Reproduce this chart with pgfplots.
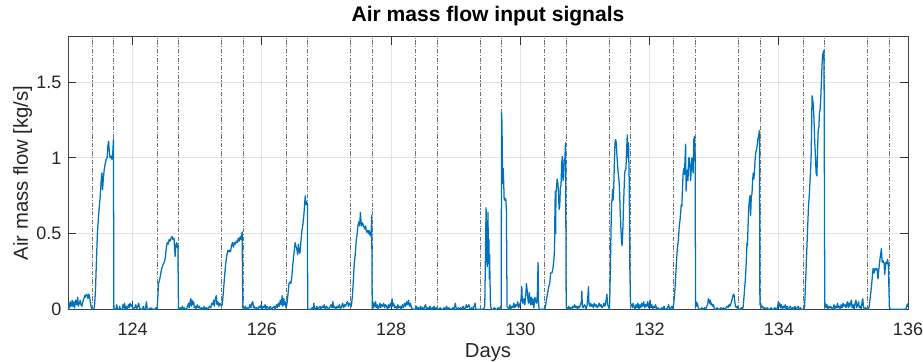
\documentclass[border=0pt]{standalone}
\usepackage{fontspec}
\setmainfont{Liberation Sans}
\usepackage{pgfplots}
\pgfplotsset{compat=1.18}
\definecolor{mblue}{rgb}{0,0.447,0.741}
\definecolor{txtgray}{rgb}{0.15,0.15,0.15}
\begin{document}
\begin{tikzpicture}
\begin{axis}[
  name=ax,
  scale only axis,
  width=630pt, height=204.45pt,
  xmin=123, xmax=136, ymin=0, ymax=1.8,
  xtick={124,126,...,136},
  ytick={0,0.5,1,1.5},
  grid=major,
  major grid style={color=black!11, line width=0.6pt},
  axis line style={color=black!75, line width=0.6pt},
  tick style={color=black!80, line width=0.6pt},
  major tick length=6pt,
  tick align=inside,
  /pgf/number format/assume math mode=true,
  ticklabel style={font=\fontsize{13.5}{16}\selectfont, text=txtgray},
  xticklabel style={anchor=base, inner sep=0pt, yshift=-19.8pt},
  yticklabel style={anchor=east, inner sep=0pt, xshift=-4.7pt},
  title={\bfseries Air mass flow input signals},
  title style={at={(axis description cs:0.5,1)}, anchor=base, inner sep=0pt, yshift=5.5pt, font=\fontsize{15.8}{18}\selectfont},
  xlabel={Days},
  ylabel={Air mass flow [kg/s]},
  xlabel style={at={(axis description cs:0.5,-0.178)}, anchor=base, inner sep=0pt, font=\fontsize{15.2}{18}\selectfont, text=txtgray},
  ylabel style={at={(axis description cs:-0.0425,0.5)}, anchor=south, rotate=0, inner sep=0pt, font=\fontsize{15.2}{18}\selectfont, text=txtgray},
]
\addplot[ycomb, black!55, line width=0.5pt, dash pattern=on 3.2pt off 1.2pt on 0.8pt off 1.2pt, forget plot] coordinates {
(123.375,1.8) (123.70833,1.8) (124.375,1.8) (124.70833,1.8)
(125.375,1.8) (125.70833,1.8) (126.375,1.8) (126.70833,1.8)
(127.375,1.8) (127.70833,1.8) (128.375,1.8) (128.70833,1.8)
(129.375,1.8) (129.70833,1.8) (130.375,1.8) (130.70833,1.8)
(131.375,1.8) (131.70833,1.8) (132.375,1.8) (132.70833,1.8)
(133.375,1.8) (133.70833,1.8) (134.375,1.8) (134.70833,1.8)
(135.375,1.8) (135.70833,1.8)
};
\addplot[mblue, line width=0.95pt, line join=round, forget plot] table {
x y
123.000 0.00
123.010 0.01
123.018 0.04
123.025 0.01
123.035 0.05
123.045 0.02
123.055 0.03
123.065 0.06
123.075 0.02
123.090 0.05
123.100 0.01
123.110 0.03
123.120 0.06
123.135 0.03
123.150 0.08
123.160 0.02
123.175 0.04
123.190 0.06
123.200 0.03
123.215 0.02
123.230 0.05
123.245 0.07
123.260 0.09
123.270 0.08
123.285 0.10
123.300 0.09
123.310 0.07
123.320 0.10
123.330 0.09
123.345 0.05
123.360 0.01
123.380 0.00
123.400 0.00
123.410 0.02
123.425 0.12
123.440 0.32
123.455 0.50
123.470 0.60
123.485 0.68
123.500 0.75
123.515 0.86
123.525 0.90
123.535 0.79
123.545 0.85
123.560 0.92
123.575 0.96
123.590 0.99
123.605 1.00
123.618 1.08
123.628 1.11
123.638 1.05
123.650 1.00
123.665 1.01
123.680 0.99
123.695 1.05
123.703 1.12
123.710 0.00
123.720 0.00
123.740 0.00
123.755 0.03
123.765 0.00
123.790 0.00
123.800 0.02
123.810 0.00
123.840 0.00
123.850 0.03
123.860 0.01
123.875 0.04
123.885 0.00
123.900 0.02
123.915 0.00
123.935 0.03
123.945 0.01
123.960 0.04
123.975 0.02
123.990 0.03
124.005 0.00
124.030 0.01
124.050 0.03
124.060 0.00
124.080 0.02
124.095 0.04
124.105 0.01
124.125 0.00
124.150 0.00
124.165 0.02
124.175 0.00
124.200 0.01
124.215 0.05
124.225 0.00
124.250 0.00
124.280 0.01
124.310 0.00
124.340 0.00
124.365 0.01
124.378 0.00
124.390 0.08
124.400 0.17
124.415 0.19
124.430 0.22
124.445 0.26
124.460 0.28
124.475 0.30
124.490 0.31
124.505 0.34
124.520 0.40
124.535 0.44
124.550 0.43
124.565 0.46
124.580 0.45
124.595 0.47
124.610 0.48
124.625 0.46
124.640 0.47
124.650 0.40
124.658 0.35
124.668 0.42
124.680 0.44
124.690 0.41
124.700 0.43
124.710 0.00
124.720 0.00
124.740 0.01
124.755 0.00
124.770 0.02
124.785 0.00
124.800 0.01
124.815 0.00
124.835 0.00
124.850 0.02
124.865 0.04
124.875 0.01
124.890 0.05
124.900 0.07
124.910 0.02
124.920 0.06
124.930 0.03
124.945 0.05
124.955 0.01
124.970 0.02
124.985 0.00
125.000 0.03
125.015 0.01
125.030 0.02
125.050 0.00
125.070 0.01
125.090 0.00
125.110 0.02
125.125 0.00
125.145 0.01
125.165 0.00
125.190 0.02
125.210 0.01
125.225 0.04
125.240 0.03
125.255 0.06
125.265 0.02
125.280 0.07
125.295 0.09
125.305 0.03
125.320 0.05
125.335 0.02
125.350 0.04
125.365 0.03
125.378 0.02
125.390 0.04
125.400 0.09
125.420 0.20
125.440 0.30
125.460 0.36
125.475 0.39
125.490 0.38
125.505 0.39
125.515 0.38
125.530 0.42
125.545 0.44
125.560 0.41
125.575 0.44
125.590 0.43
125.605 0.45
125.620 0.44
125.635 0.47
125.650 0.45
125.665 0.48
125.680 0.46
125.695 0.51
125.705 0.01
125.710 0.01
125.725 0.00
125.745 0.02
125.760 0.00
125.780 0.01
125.795 0.00
125.815 0.03
125.830 0.01
125.845 0.04
125.860 0.05
125.870 0.01
125.885 0.02
125.900 0.00
125.920 0.01
125.940 0.00
125.960 0.02
125.975 0.01
125.990 0.03
126.005 0.00
126.020 0.02
126.035 0.01
126.050 0.03
126.065 0.00
126.080 0.02
126.095 0.01
126.110 0.00
126.130 0.02
126.150 0.00
126.170 0.01
126.190 0.02
126.205 0.00
126.225 0.03
126.240 0.01
126.255 0.04
126.270 0.02
126.285 0.06
126.300 0.03
126.315 0.09
126.325 0.02
126.340 0.07
126.350 0.03
126.360 0.05
126.375 0.01
126.390 0.04
126.405 0.10
126.420 0.17
126.435 0.18
126.450 0.17
126.465 0.22
126.480 0.30
126.500 0.38
126.515 0.44
126.525 0.42
126.540 0.40
126.555 0.36
126.565 0.43
126.575 0.38
126.590 0.37
126.605 0.45
126.620 0.52
126.635 0.56
126.650 0.62
126.663 0.70
126.672 0.75
126.682 0.69
126.695 0.71
126.705 0.69
126.710 0.00
126.720 0.00
126.740 0.00
126.760 0.00
126.780 0.01
126.795 0.00
126.805 0.04
126.815 0.00
126.835 0.00
126.850 0.02
126.865 0.00
126.885 0.01
126.900 0.02
126.915 0.00
126.935 0.02
126.950 0.01
126.965 0.03
126.980 0.00
127.000 0.02
127.015 0.01
127.030 0.00
127.050 0.01
127.070 0.03
127.085 0.01
127.100 0.05
127.110 0.01
127.125 0.02
127.145 0.00
127.165 0.02
127.180 0.01
127.200 0.03
127.215 0.00
127.235 0.02
127.250 0.04
127.265 0.01
127.280 0.03
127.295 0.02
127.310 0.04
127.325 0.05
127.340 0.02
127.355 0.04
127.370 0.03
127.385 0.02
127.400 0.08
127.415 0.18
127.430 0.30
127.445 0.36
127.460 0.45
127.475 0.50
127.490 0.56
127.505 0.58
127.515 0.55
127.525 0.64
127.535 0.58
127.545 0.55
127.560 0.57
127.575 0.55
127.590 0.53
127.605 0.55
127.620 0.51
127.635 0.52
127.650 0.50
127.660 0.52
127.670 0.49
127.680 0.51
127.690 0.48
127.700 0.62
127.708 0.00
127.720 0.05
127.730 0.01
127.740 0.04
127.750 0.02
127.760 0.05
127.770 0.01
127.785 0.03
127.800 0.00
127.815 0.02
127.830 0.04
127.840 0.01
127.855 0.03
127.870 0.02
127.885 0.04
127.900 0.01
127.915 0.03
127.930 0.02
127.945 0.00
127.960 0.03
127.975 0.01
127.990 0.04
128.005 0.02
128.015 0.07
128.025 0.02
128.040 0.04
128.055 0.01
128.070 0.02
128.090 0.00
128.105 0.03
128.120 0.01
128.140 0.02
128.155 0.00
128.175 0.03
128.190 0.01
128.210 0.04
128.225 0.02
128.240 0.05
128.255 0.03
128.270 0.06
128.285 0.02
128.300 0.04
128.315 0.01
128.335 0.00
128.360 0.00
128.380 0.00
128.395 0.02
128.405 0.00
128.425 0.01
128.440 0.00
128.460 0.02
128.470 0.00
128.490 0.01
128.505 0.00
128.520 0.02
128.535 0.03
128.545 0.00
128.565 0.01
128.580 0.00
128.600 0.02
128.615 0.00
128.635 0.01
128.650 0.00
128.665 0.02
128.680 0.00
128.700 0.01
128.720 0.00
128.740 0.00
128.760 0.01
128.775 0.00
128.800 0.00
128.820 0.01
128.840 0.00
128.860 0.02
128.875 0.00
128.895 0.01
128.915 0.00
128.935 0.00
128.955 0.01
128.970 0.00
128.985 0.02
128.995 0.04
129.005 0.01
129.020 0.00
129.040 0.01
129.060 0.00
129.080 0.01
129.095 0.00
129.115 0.02
129.130 0.00
129.150 0.01
129.165 0.03
129.175 0.01
129.190 0.02
129.205 0.03
129.215 0.01
129.230 0.00
129.250 0.01
129.265 0.00
129.285 0.02
129.300 0.04
129.310 0.00
129.330 0.00
129.360 0.00
129.400 0.00
129.430 0.00
129.450 0.02
129.462 0.40
129.470 0.67
129.477 0.50
129.483 0.32
129.488 0.28
129.493 0.45
129.500 0.64
129.505 0.35
129.510 0.30
129.515 0.46
129.520 0.20
129.525 0.36
129.530 0.22
129.537 0.05
129.545 0.01
129.560 0.00
129.580 0.00
129.600 0.01
129.620 0.00
129.640 0.00
129.660 0.01
129.680 0.00
129.695 0.02
129.705 0.01
129.709 1.30
129.716 1.24
129.722 1.00
129.728 0.83
129.735 0.93
129.742 0.85
129.750 0.73
129.762 0.72
129.775 0.73
129.785 0.65
129.795 0.02
129.810 0.01
129.825 0.00
129.840 0.03
129.850 0.00
129.870 0.02
129.885 0.01
129.900 0.04
129.915 0.01
129.930 0.03
129.945 0.02
129.960 0.05
129.975 0.01
129.990 0.03
130.005 0.05
130.015 0.08
130.023 0.15
130.030 0.06
130.040 0.04
130.055 0.07
130.070 0.03
130.085 0.10
130.095 0.17
130.105 0.13
130.115 0.08
130.125 0.04
130.140 0.11
130.150 0.05
130.160 0.03
130.170 0.08
130.180 0.03
130.195 0.07
130.210 0.01
130.225 0.08
130.240 0.05
130.255 0.04
130.265 0.12
130.275 0.31
130.282 0.05
130.290 0.00
130.320 0.00
130.350 0.00
130.370 0.00
130.385 0.01
130.400 0.05
130.420 0.10
130.440 0.15
130.455 0.17
130.470 0.24
130.490 0.24
130.505 0.27
130.520 0.33
130.530 0.40
130.537 0.70
130.542 0.78
130.547 0.50
130.552 0.77
130.560 0.80
130.570 0.86
130.580 0.84
130.590 0.78
130.600 0.66
130.610 0.68
130.620 0.80
130.630 0.82
130.640 0.96
130.650 1.01
130.660 0.85
130.670 0.87
130.680 0.98
130.690 1.00
130.700 1.10
130.710 0.02
130.720 0.01
130.735 0.00
130.750 0.02
130.765 0.00
130.780 0.01
130.795 0.00
130.810 0.02
130.825 0.01
130.840 0.03
130.855 0.01
130.870 0.02
130.885 0.00
130.900 0.02
130.915 0.01
130.930 0.03
130.945 0.05
130.952 0.12
130.960 0.02
130.975 0.01
130.990 0.03
131.005 0.02
131.020 0.00
131.035 0.03
131.048 0.10
131.055 0.15
131.062 0.04
131.075 0.02
131.090 0.04
131.100 0.02
131.115 0.03
131.130 0.01
131.145 0.04
131.160 0.02
131.175 0.03
131.190 0.01
131.205 0.02
131.220 0.04
131.235 0.02
131.250 0.03
131.265 0.01
131.280 0.02
131.295 0.04
131.310 0.02
131.325 0.05
131.340 0.10
131.350 0.03
131.365 0.02
131.378 0.00
131.385 0.08
131.395 0.30
131.405 0.55
131.412 0.70
131.420 0.72
131.428 0.79
131.435 0.72
131.445 0.80
131.455 0.95
131.465 1.10
131.475 1.12
131.485 1.10
131.495 1.02
131.505 0.95
131.515 0.90
131.525 0.86
131.535 0.80
131.545 0.65
131.555 0.55
131.565 0.46
131.575 0.42
131.585 0.50
131.595 0.65
131.605 0.78
131.615 0.90
131.625 0.92
131.635 0.93
131.645 1.05
131.655 1.15
131.665 1.00
131.675 1.10
131.685 0.85
131.695 0.28
131.705 0.04
131.720 0.03
131.735 0.01
131.745 0.04
131.760 0.02
131.775 0.00
131.790 0.03
131.805 0.01
131.820 0.04
131.835 0.00
131.850 0.03
131.865 0.01
131.880 0.04
131.895 0.02
131.910 0.05
131.925 0.01
131.940 0.03
131.955 0.02
131.970 0.05
131.985 0.01
132.000 0.04
132.010 0.06
132.020 0.01
132.035 0.03
132.050 0.00
132.065 0.02
132.080 0.01
132.095 0.03
132.110 0.00
132.130 0.01
132.150 0.00
132.170 0.00
132.190 0.01
132.205 0.00
132.225 0.02
132.240 0.00
132.260 0.00
132.280 0.01
132.295 0.03
132.310 0.00
132.330 0.01
132.345 0.02
132.360 0.00
132.372 0.03
132.385 0.08
132.400 0.18
132.415 0.30
132.430 0.40
132.445 0.45
132.460 0.55
132.475 0.60
132.490 0.69
132.500 0.68
132.510 0.80
132.520 0.90
132.530 0.93
132.540 0.89
132.550 1.00
132.558 1.09
132.565 0.78
132.575 0.88
132.585 0.92
132.595 0.85
132.605 1.00
132.615 1.00
132.625 0.95
132.635 0.85
132.645 0.92
132.655 1.00
132.665 0.95
132.675 0.90
132.685 1.12
132.695 1.14
132.705 1.05
132.712 0.02
132.720 0.05
132.730 0.02
132.740 0.04
132.755 0.01
132.770 0.00
132.790 0.00
132.810 0.01
132.830 0.00
132.850 0.01
132.870 0.00
132.885 0.02
132.900 0.03
132.910 0.07
132.920 0.06
132.930 0.04
132.940 0.06
132.950 0.03
132.960 0.04
132.975 0.02
132.990 0.03
133.005 0.00
133.025 0.00
133.045 0.01
133.065 0.00
133.085 0.00
133.105 0.01
133.125 0.00
133.145 0.01
133.165 0.00
133.185 0.01
133.200 0.02
133.215 0.01
133.230 0.03
133.245 0.02
133.260 0.04
133.275 0.06
133.290 0.09
133.300 0.10
133.310 0.09
133.320 0.05
133.330 0.02
133.345 0.01
133.360 0.02
133.375 0.00
133.400 0.00
133.425 0.01
133.440 0.00
133.450 0.02
133.465 0.10
133.480 0.18
133.490 0.25
133.500 0.35
133.508 0.44
133.515 0.42
133.525 0.55
133.535 0.67
133.545 0.72
133.555 0.75
133.565 0.62
133.575 0.75
133.585 0.76
133.595 0.85
133.605 0.90
133.615 0.86
133.625 0.92
133.635 1.00
133.645 1.04
133.655 1.05
133.665 1.08
133.675 1.12
133.690 1.15
133.700 1.18
133.708 0.03
133.720 0.04
133.735 0.01
133.750 0.02
133.765 0.00
133.785 0.01
133.800 0.00
133.820 0.01
133.840 0.00
133.860 0.00
133.880 0.01
133.900 0.00
133.920 0.00
133.940 0.01
133.960 0.00
133.980 0.01
133.995 0.05
134.005 0.02
134.015 0.04
134.025 0.01
134.040 0.03
134.055 0.00
134.070 0.02
134.085 0.01
134.100 0.03
134.115 0.00
134.130 0.02
134.145 0.00
134.165 0.01
134.180 0.02
134.195 0.00
134.215 0.01
134.230 0.00
134.250 0.02
134.265 0.00
134.285 0.01
134.300 0.02
134.315 0.00
134.335 0.01
134.350 0.00
134.370 0.00
134.390 0.00
134.400 0.02
134.415 0.18
134.430 0.35
134.445 0.52
134.460 0.68
134.475 0.77
134.490 0.90
134.500 1.00
134.508 1.20
134.515 1.41
134.525 1.38
134.535 1.35
134.545 1.25
134.555 1.12
134.565 1.03
134.578 0.90
134.590 0.88
134.600 1.05
134.610 1.18
134.620 1.20
134.630 1.30
134.640 1.32
134.650 1.40
134.660 1.50
134.670 1.62
134.680 1.68
134.690 1.70
134.700 1.71
134.712 0.02
134.720 0.04
134.730 0.01
134.745 0.03
134.760 0.00
134.775 0.02
134.790 0.01
134.805 0.02
134.820 0.00
134.840 0.01
134.855 0.03
134.865 0.00
134.880 0.02
134.895 0.01
134.910 0.04
134.920 0.01
134.935 0.02
134.950 0.00
134.965 0.03
134.980 0.01
134.995 0.04
135.010 0.02
135.025 0.03
135.040 0.01
135.055 0.04
135.065 0.05
135.075 0.01
135.090 0.04
135.100 0.02
135.115 0.05
135.125 0.06
135.135 0.01
135.150 0.03
135.165 0.00
135.180 0.04
135.195 0.06
135.205 0.01
135.220 0.03
135.235 0.05
135.245 0.01
135.260 0.02
135.275 0.00
135.290 0.05
135.300 0.07
135.310 0.02
135.325 0.00
135.345 0.01
135.365 0.00
135.385 0.00
135.400 0.02
135.415 0.08
135.430 0.13
135.445 0.20
135.460 0.27
135.475 0.24
135.490 0.27
135.505 0.26
135.520 0.27
135.535 0.20
135.545 0.25
135.560 0.31
135.575 0.36
135.588 0.40
135.600 0.31
135.615 0.32
135.630 0.30
135.640 0.23
135.655 0.31
135.670 0.30
135.682 0.33
135.695 0.30
135.712 0.01
135.730 0.00
135.800 0.00
135.900 0.00
135.960 0.00
135.975 0.01
135.985 0.03
135.995 0.02
136.000 0.04
};
\end{axis}
\pgfresetboundingbox
\path ([shift={(-51pt,-39.5pt)}]ax.south west) rectangle ([shift={(11.25pt,27.5pt)}]ax.north east);
\end{tikzpicture}
\end{document}
